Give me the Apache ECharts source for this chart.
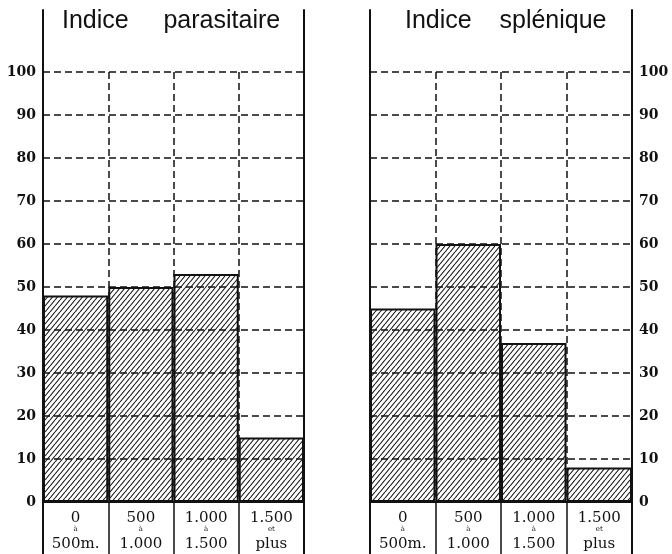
<!DOCTYPE html>
<html>
<head>
<meta charset="utf-8">
<script src="https://cdn.jsdelivr.net/npm/echarts@6/dist/echarts.min.js"></script>
<style>
html,body{margin:0;padding:0;background:#fff;}
#chart{width:672px;height:554px;}
</style>
</head>
<body>
<div id="chart"></div>
<script>
// ---- data ----
const rangeFrom = ['0', '500', '1.000', '1.500'];
const rangeJoin = ['à', 'à', 'à', 'et'];
const rangeTo = ['500m.', '1.000', '1.500', 'plus'];
const indiceParasitaire = [48, 50, 53, 15];
const indiceSplenique = [45, 60, 37, 8];
const titleLeft = 'Indice     parasitaire';
const titleRight = 'Indice    splénique';
const yMin = 0, yMax = 100, yStep = 10;

const categories = rangeFrom.map((f, i) => f + '\n' + rangeJoin[i] + '\n' + rangeTo[i]);

// ---- hatch pattern ----
function makeHatch() {
  const w = 5, h = 6;
  const c = document.createElement('canvas');
  c.width = w; c.height = h;
  const ctx = c.getContext('2d');
  ctx.strokeStyle = '#151515';
  ctx.lineWidth = 1.1;
  ctx.beginPath();
  [-w, 0, w].forEach((dx) => {
    ctx.moveTo(dx, h);
    ctx.lineTo(dx + w, 0);
  });
  ctx.stroke();
  return c;
}
const hatch = makeHatch();

const ink = '#111';
const dash = { type: [7, 4], width: 1.5, color: '#111' };
const panels = [
  { left: 43, width: 261 },
  { left: 370, width: 262 }
];
const gridTop = 72, gridHeight = 430;
const frameTop = 10, frameHeight = 544;

function catLabel(v) {
  const p = v.split('\n');
  return '{a|' + p[0] + '}\n{b|' + p[1] + '}\n{c|' + p[2] + '}';
}
const labelRich = {
  a: { fontFamily: 'DejaVu Serif', fontSize: 15, lineHeight: 14, color: ink },
  b: { fontFamily: 'DejaVu Serif', fontSize: 7, lineHeight: 9, color: ink },
  c: { fontFamily: 'DejaVu Serif', fontSize: 15, lineHeight: 20, color: ink }
};

const grids = [
  { left: panels[0].left, width: panels[0].width, top: gridTop, height: gridHeight },
  { left: panels[1].left, width: panels[1].width, top: gridTop, height: gridHeight },
  { left: panels[0].left, width: panels[0].width, top: frameTop, height: frameHeight },
  { left: panels[1].left, width: panels[1].width, top: frameTop, height: frameHeight }
];

function dataX(gi) {
  return {
    type: 'category', gridIndex: gi, data: categories,
    axisLine: { show: true, onZero: false, lineStyle: { color: ink, width: 2 } },
    axisTick: { show: true, alignWithLabel: false, interval: 0, length: 52, lineStyle: { color: ink, width: 1.5 } },
    axisLabel: { interval: 0, margin: 9, formatter: catLabel, rich: labelRich },
    splitLine: { show: true, interval: 0, lineStyle: dash }
  };
}
function dataY(gi, pos) {
  return {
    type: 'value', gridIndex: gi, position: pos, min: yMin, max: yMax, interval: yStep,
    axisLine: { show: false }, axisTick: { show: false },
    axisLabel: { margin: 7, color: ink, fontFamily: 'DejaVu Serif', fontWeight: 'bold', fontSize: 14 },
    splitLine: { show: true, lineStyle: dash }
  };
}
function frameY(gi, pos) {
  return {
    type: 'value', gridIndex: gi, position: pos, min: 0, max: 1,
    axisLine: { show: true, onZero: false, lineStyle: { color: ink, width: 2 } },
    axisTick: { show: false }, axisLabel: { show: false }, splitLine: { show: false }
  };
}
function barSeries(xi, yi, data) {
  return {
    type: 'bar', xAxisIndex: xi, yAxisIndex: yi, data: data,
    barCategoryGap: '0%', barWidth: '100%',
    itemStyle: { color: { image: hatch, repeat: 'repeat' }, borderColor: ink, borderWidth: 2 },
    emphasis: { disabled: true }, silent: true
  };
}

const chart = echarts.init(document.getElementById('chart'), null, { renderer: 'canvas' });
chart.setOption({
  animation: false,
  backgroundColor: '#fff',
  title: [
    { text: titleLeft, left: 57, top: 4, textStyle: { fontFamily: 'Liberation Sans', fontSize: 25, fontWeight: 'normal', color: ink } },
    { text: titleRight, left: 400, top: 4, textStyle: { fontFamily: 'Liberation Sans', fontSize: 25, fontWeight: 'normal', color: ink } }
  ],
  grid: grids,
  xAxis: [
    dataX(0), dataX(1),
    { type: 'value', gridIndex: 2, min: 0, max: 1, show: false },
    { type: 'value', gridIndex: 3, min: 0, max: 1, show: false }
  ],
  yAxis: [
    dataY(0, 'left'), dataY(1, 'right'),
    frameY(2, 'left'), frameY(2, 'right'),
    frameY(3, 'left'), frameY(3, 'right')
  ],
  series: [
    barSeries(0, 0, indiceParasitaire),
    barSeries(1, 1, indiceSplenique)
  ]
});
</script>
</body>
</html>
